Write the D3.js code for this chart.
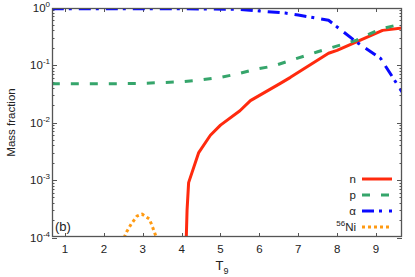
<!DOCTYPE html>
<html>
<head>
<meta charset="utf-8">
<script src="https://cdn.jsdelivr.net/npm/d3@7"></script>
<style>
  body { margin: 0; background: #fff; }
  svg { font-family: "Liberation Sans", Arial, sans-serif; }
</style>
</head>
<body>
<div id="chart"></div>
<script>
// values
const tN = [4.12, 4.14, 4.18, 4.44, 4.74, 5.0, 5.5, 5.77, 6.54, 6.8, 7.78, 8.0, 9.17, 9.67];
const nFrac = [1e-4, 3e-4, 9e-4, 3e-3, 6e-3, 9e-3, 0.016, 0.024, 0.048, 0.061, 0.16, 0.18, 0.4, 0.44];

const tP = [0.66, 1, 2, 3, 4, 4.5, 5, 5.4, 5.9, 6.36, 6.8, 7.5, 8.5, 9.1, 9.67];
const pFrac = [0.047, 0.047, 0.047, 0.048, 0.051, 0.055, 0.061, 0.069, 0.084, 0.096, 0.12, 0.17, 0.27, 0.42, 0.52];

const tA = [0.66, 2, 4, 5.5, 6.0, 6.67, 7.0, 7.78, 8.5, 9.12, 9.67];
const aFrac = [0.95, 0.95, 0.95, 0.93, 0.87, 0.8, 0.74, 0.6, 0.25, 0.13, 0.034];

const tNi = [2.52, 2.59, 2.7, 2.85, 2.98, 3.17, 3.26, 3.35];
const niFrac = [1e-4, 1.27e-4, 1.7e-4, 2.35e-4, 2.55e-4, 2.1e-4, 1.47e-4, 1e-4];

const xTicks = [1, 2, 3, 4, 5, 6, 7, 8, 9];
const yExps = [0, -1, -2, -3, -4];

const series = [
  { label: "n", t: tN, v: nFrac, color: "#ff2a0e", dash: null },
  { label: "p", t: tP, v: pFrac, color: "#35a56b", dash: "8,11" },
  { label: "\u03b1", t: tA, v: aFrac, color: "#0a0aff", dash: "12,5,3,7" },
  { label: "Ni", sup: "56", t: tNi, v: niFrac, color: "#ff9a12", dash: "3,3" }
];

const W = 415, H = 277;
const m = { left: 52, right: 13, top: 8, bottom: 40 };

const svg = d3.select("#chart").append("svg")
  .attr("width", W).attr("height", H);

const x = d3.scaleLinear().domain([0.665, 9.67]).range([m.left, W - m.right]);
const y = d3.scaleLog().domain([1e-4, 1]).range([H - m.bottom + 0.5, m.top - 0.5]);

svg.append("clipPath").attr("id", "clip")
  .append("rect")
  .attr("x", m.left).attr("y", m.top)
  .attr("width", W - m.right - m.left).attr("height", H - m.bottom - m.top);

const axisColor = "#555";

// minor y ticks (left and right, inward)
const minor = [];
for (let e = -4; e < 0; e++) {
  for (let k = 2; k <= 9; k++) minor.push(k * Math.pow(10, e));
}
const tickG = svg.append("g").attr("stroke", axisColor).attr("stroke-width", 1);
minor.forEach(v => {
  const yy = Math.round(y(v)) + 0.5;
  tickG.append("line").attr("x1", m.left).attr("x2", m.left + 2.5).attr("y1", yy).attr("y2", yy);
  tickG.append("line").attr("x1", W - m.right).attr("x2", W - m.right - 2.5).attr("y1", yy).attr("y2", yy);
});
yExps.forEach(e => {
  const yy = Math.round(y(Math.pow(10, e))) + 0.5;
  tickG.append("line").attr("x1", m.left).attr("x2", m.left + 5).attr("y1", yy).attr("y2", yy);
  tickG.append("line").attr("x1", W - m.right).attr("x2", W - m.right - 5).attr("y1", yy).attr("y2", yy);
});
xTicks.forEach(t => {
  const xx = Math.round(x(t)) + 0.5;
  tickG.append("line").attr("x1", xx).attr("x2", xx).attr("y1", H - m.bottom).attr("y2", H - m.bottom - 4);
  tickG.append("line").attr("x1", xx).attr("x2", xx).attr("y1", m.top).attr("y2", m.top + 4);
});

// y tick labels 10^n
yExps.forEach(e => {
  const t = svg.append("text")
    .attr("x", 50).attr("y", y(Math.pow(10, e)) + 4)
    .attr("text-anchor", "end")
    .attr("font-size", 11.5).attr("fill", "#222");
  t.append("tspan").text("10");
  t.append("tspan").attr("dy", -5).attr("font-size", 8).text(e);
});

// x tick labels
svg.append("g").selectAll("text").data(xTicks).join("text")
  .attr("x", d => x(d)).attr("y", H - m.bottom + 16)
  .attr("text-anchor", "middle")
  .attr("font-size", 11.5).attr("fill", "#222")
  .text(d => d);

// axis titles
const xl = svg.append("text")
  .attr("x", 222).attr("y", 270)
  .attr("text-anchor", "middle").attr("font-size", 13).attr("fill", "#222");
xl.append("tspan").text("T");
xl.append("tspan").attr("dy", 4).attr("font-size", 9).text("9");

svg.append("text")
  .attr("transform", `translate(15,${(m.top + H - m.bottom) / 2}) rotate(-90)`)
  .attr("text-anchor", "middle").attr("font-size", 11.5).attr("fill", "#222")
  .text("Mass fraction");

// curves
const line = d3.line().x(d => x(d[0])).y(d => y(d[1]));
const plot = svg.append("g").attr("clip-path", "url(#clip)");
series.forEach(s => {
  plot.append("path")
    .datum(s.t.map((t, i) => [t, s.v[i]]))
    .attr("d", line)
    .attr("fill", "none")
    .attr("stroke", s.color)
    .attr("stroke-width", 3)
    .attr("stroke-dasharray", s.dash)
    .attr("stroke-linejoin", "round");
});

// frame
svg.append("rect")
  .attr("x", m.left + 0.5).attr("y", m.top + 0.5)
  .attr("width", W - m.right - m.left - 1).attr("height", H - m.bottom - m.top - 1)
  .attr("fill", "none").attr("stroke", axisColor).attr("stroke-width", 1.3);

// panel label
svg.append("text")
  .attr("x", 55).attr("y", 231)
  .attr("font-size", 13).attr("fill", "#222")
  .text("(b)");

// legend
const leg = svg.append("g");
series.forEach((s, i) => {
  const yy = 179 + i * 16;
  const t = leg.append("text")
    .attr("x", 356).attr("y", yy + 4)
    .attr("text-anchor", "end").attr("font-size", 11.5).attr("fill", "#222");
  if (s.sup) t.append("tspan").attr("dy", -5).attr("font-size", 8).text(s.sup);
  t.append("tspan").attr("dy", s.sup ? 5 : 0).text(s.label);
  leg.append("line")
    .attr("x1", 362).attr("x2", 392).attr("y1", yy).attr("y2", yy)
    .attr("stroke", s.color).attr("stroke-width", 3)
    .attr("stroke-dasharray", s.dash);
});
</script>
</body>
</html>
